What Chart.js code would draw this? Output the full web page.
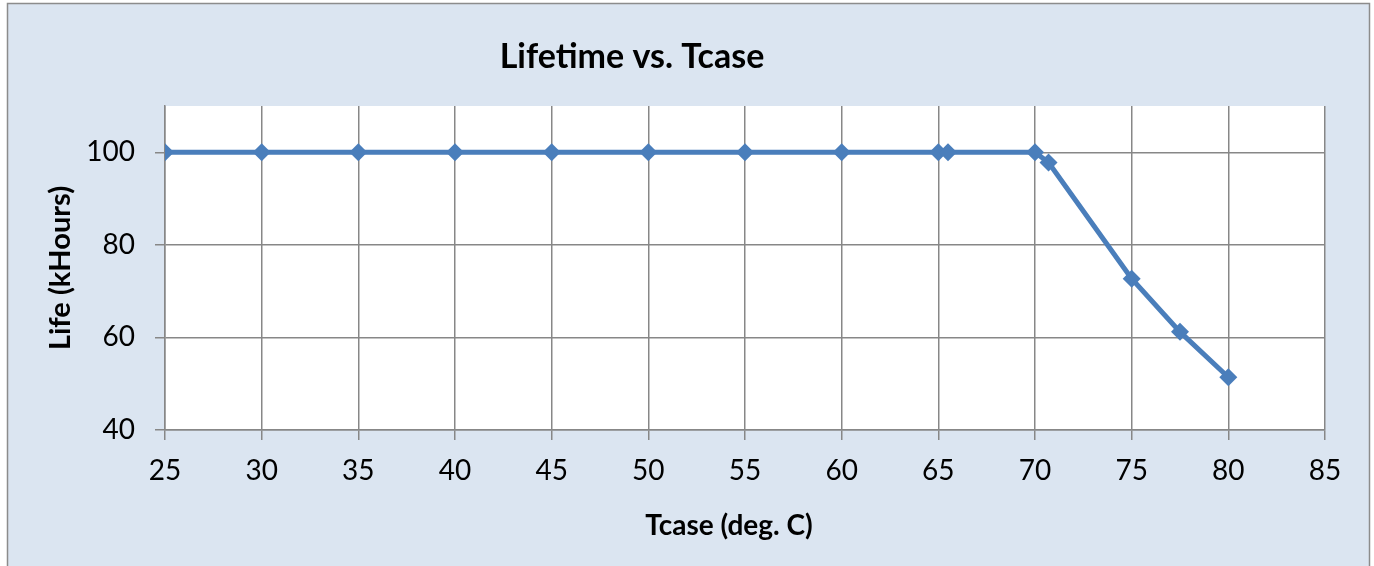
<!DOCTYPE html>
<html>
<head>
<meta charset="utf-8">
<script src="https://cdn.jsdelivr.net/npm/chart.js@4"></script>
<style>
  html, body { margin: 0; padding: 0; background: #ffffff; }
  #wrap { width: 1374px; height: 566px; }
</style>
</head>
<body>
<div id="wrap"><canvas id="myChart"></canvas></div>
<script>
// du lieu doc tu hinh
var tcase = [25, 30, 35, 40, 45, 50, 55, 60, 65, 65.5, 70, 70.7, 75, 77.5, 80];
var life = [100, 100, 100, 100, 100, 100, 100, 100, 100, 100, 100, 97.8, 72.7, 61.2, 51.4];
var xTicks = [25, 30, 35, 40, 45, 50, 55, 60, 65, 70, 75, 80, 85];
var yTicks = [40, 60, 80, 100];

var points = tcase.map(function (t, i) { return { x: t, y: life[i] }; });

var gridColor = '#878787';
var fontName = 'Lato, "Noto Sans", sans-serif';

// nen xanh nhat, vien xam, vung ve trang
var backgroundPlugin = {
    id: 'nen',
    beforeDraw: function (chart) {
        var ctx = chart.ctx;
        var a = chart.chartArea;
        ctx.save();
        ctx.fillStyle = '#ffffff';
        ctx.fillRect(0, 0, chart.width, chart.height);
        ctx.fillStyle = '#dbe5f1';
        ctx.fillRect(7, 3, 1363, chart.height);
        ctx.strokeStyle = '#8c8c8c';
        ctx.lineWidth = 1.5;
        ctx.strokeRect(7.5, 3.5, 1362, chart.height + 5);
        ctx.fillStyle = '#ffffff';
        ctx.fillRect(a.left, a.top, a.right - a.left, a.bottom - a.top);
        ctx.restore();
    }
};

// tieu de va ten truc x dat lech trai nhu ban goc
var titlePlugin = {
    id: 'tieude',
    afterDraw: function (chart) {
        var ctx = chart.ctx;
        ctx.save();
        ctx.fillStyle = '#000000';
        ctx.textAlign = 'center';
        ctx.textBaseline = 'middle';
        ctx.font = 'bold 34px ' + fontName;
        ctx.fillText('Lifetime vs. Tcase', 632, 57);
        ctx.font = 'bold 28px ' + fontName;
        ctx.fillText('Tcase (deg. C)', 729, 526);
        ctx.restore();
    }
};

new Chart('myChart', {
    type: 'scatter',
    data: {
        datasets: [{
            label: 'Life',
            data: points,
            showLine: true,
            borderColor: '#4a7ebb',
            backgroundColor: '#4a7ebb',
            borderWidth: 5,
            pointStyle: 'rectRot',
            pointRadius: 9,
            pointHoverRadius: 9,
            pointBorderWidth: 0,
            tension: 0
        }]
    },
    options: {
        responsive: true,
        maintainAspectRatio: false,
        animation: false,
        layout: { padding: { top: 106, right: 49, left: 0, bottom: 0 } },
        plugins: {
            legend: { display: false },
            title: { display: false },
            tooltip: { enabled: false }
        },
        scales: {
            x: {
                type: 'linear',
                min: 25,
                max: 85,
                afterBuildTicks: function (axis) {
                    axis.ticks = xTicks.map(function (v) { return { value: v }; });
                },
                afterFit: function (axis) { axis.height = 136; },
                grid: { color: gridColor, lineWidth: 1.5, tickLength: 10, drawTicks: true },
                border: { color: gridColor, width: 1.5 },
                ticks: { color: '#000000', font: { family: fontName, size: 28 }, padding: 14, maxRotation: 0 }
            },
            y: {
                min: 40,
                max: 110,
                afterBuildTicks: function (axis) {
                    axis.ticks = yTicks.map(function (v) { return { value: v }; });
                },
                afterFit: function (axis) { axis.width = 165; },
                grid: { color: gridColor, lineWidth: 1.5, tickLength: 10, drawTicks: true },
                border: { color: gridColor, width: 1.5 },
                ticks: { color: '#000000', font: { family: fontName, size: 28 }, padding: 20 },
                title: {
                    display: true,
                    text: 'Life (kHours)',
                    color: '#000000',
                    font: { family: fontName, size: 29, weight: 'bold' },
                    padding: { top: 43, bottom: 0 }
                }
            }
        }
    },
    plugins: [backgroundPlugin, titlePlugin]
});
</script>
</body>
</html>
